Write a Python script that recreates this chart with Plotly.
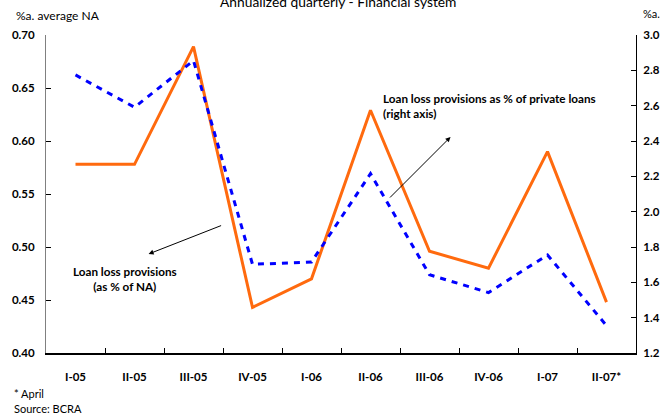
import plotly.graph_objects as go

categories = ["I-05", "II-05", "III-05", "IV-05", "I-06", "II-06", "III-06", "IV-06", "I-07", "II-07*"]
prov_na = [0.578, 0.578, 0.689, 0.443, 0.470, 0.629, 0.496, 0.480, 0.590, 0.448]
prov_private = [2.774, 2.591, 2.855, 1.702, 1.715, 2.215, 1.643, 1.542, 1.755, 1.355]
left_ticks = [0.40, 0.45, 0.50, 0.55, 0.60, 0.65, 0.70]
right_ticks = [1.2, 1.4, 1.6, 1.8, 2.0, 2.2, 2.4, 2.6, 2.8, 3.0]

FONT = "Lato"
fig = go.Figure()
fig.add_trace(go.Scatter(x=categories, y=prov_na, mode="lines",
                         line=dict(color="#FF6A0E", width=3), yaxis="y"))
fig.add_trace(go.Scatter(x=categories, y=prov_private, mode="lines",
                         line=dict(color="#0000FF", width=3, dash="6px,6px"), yaxis="y2"))

fig.update_layout(
    width=672, height=415,
    margin=dict(l=44, r=30, t=35, b=62),
    paper_bgcolor="white", plot_bgcolor="white",
    showlegend=False,
    font=dict(family=FONT, color="black"),
    xaxis=dict(type="category", range=[-0.5, 9.5], showgrid=False, zeroline=False,
               showline=True, linecolor="black", linewidth=2,
               ticks="inside", ticklen=5, tickcolor="black", tickson="boundaries",
               tickfont=dict(size=11.5, weight="bold", family=FONT), ticklabelstandoff=12),
    yaxis=dict(range=[0.40, 0.70], tickvals=left_ticks, tickformat=".2f",
               showgrid=False, zeroline=False,
               showline=True, linecolor="#808080", linewidth=1,
               ticks="inside", ticklen=5, tickcolor="black",
               tickfont=dict(size=11.5, weight="bold", family=FONT), ticklabelstandoff=8),
    yaxis2=dict(range=[1.2, 3.0], tickvals=right_ticks, tickformat=".1f",
                overlaying="y", side="right", showgrid=False, zeroline=False,
                showline=True, linecolor="black", linewidth=1,
                ticks="inside", ticklen=5, tickcolor="black",
                tickfont=dict(size=11.5, weight="bold", family=FONT), ticklabelstandoff=4),
)

def px_y(py):
    return (353 - py) / 318.0

def px_x(px):
    return (px - 44) / 598.0

anns = [
    dict(text="Annualized quarterly - Financial system", x=px_x(340), y=px_y(1),
         font=dict(size=13.8), xanchor="center", yanchor="middle"),
    dict(text="%a. average NA", x=px_x(12), y=px_y(16), font=dict(size=12),
         xanchor="left", yanchor="middle"),
    dict(text="%a.", x=px_x(647), y=px_y(14), font=dict(size=11),
         xanchor="left", yanchor="middle"),
    dict(text="* April", x=px_x(10), y=px_y(393), font=dict(size=11),
         xanchor="left", yanchor="middle"),
    dict(text="Source: BCRA", x=px_x(10), y=px_y(408), font=dict(size=11),
         xanchor="left", yanchor="middle"),
    dict(text="<b>Loan loss provisions as % of private loans</b><br><b>(right axis)</b>",
         x=px_x(384), y=px_y(106), font=dict(size=11.7), align="left",
         xanchor="left", yanchor="middle"),
    dict(text="<b>Loan loss provisions</b><br><b>(as % of NA)</b>",
         x=px_x(124), y=px_y(278), font=dict(size=11.7), align="center",
         xanchor="center", yanchor="middle"),
]
for a in anns:
    a.update(xref="paper", yref="paper", showarrow=False)
    fig.add_annotation(**a)

# arrows
for (hx, hy, tx, ty) in [(148, 254, 222, 225), (454, 137, 392, 199)]:
    fig.add_annotation(xref="paper", yref="paper", x=px_x(hx), y=px_y(hy),
                       axref="pixel", ayref="pixel", ax=tx - hx, ay=ty - hy,
                       text="", showarrow=True, arrowhead=2, arrowsize=1,
                       arrowwidth=1, arrowcolor="black")

fig.write_html("out.html")
